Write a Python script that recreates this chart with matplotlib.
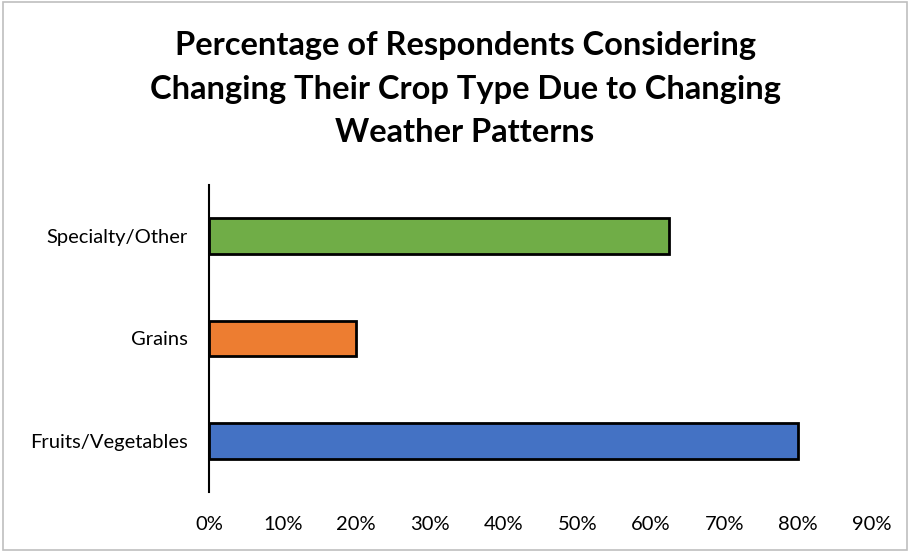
import matplotlib.pyplot as plt
from matplotlib.patches import Rectangle
from matplotlib.ticker import PercentFormatter

categories = ["Fruits/Vegetables", "Grains", "Specialty/Other"]
values = [80, 20, 62.5]
colors = ["#4472C4", "#ED7D31", "#70AD47"]

plt.rcParams['font.family'] = ['Lato', 'DejaVu Sans']

fig = plt.figure(figsize=(9.1, 5.52), dpi=100)
ax = fig.add_axes([0.2297, 0.1087, 0.7283, 0.5562])

ax.barh(categories, values, height=0.35, color=colors, edgecolor="black", linewidth=2)

ax.set_xlim(0, 90)
ax.set_ylim(-0.5, 2.5)
ax.set_xticks(range(0, 91, 10))
ax.xaxis.set_major_formatter(PercentFormatter(decimals=0))
ax.tick_params(axis="both", length=0, labelsize=14.5, colors="#000000")
ax.tick_params(axis="x", pad=17)
ax.tick_params(axis="y", pad=15.5)

for s in ["top", "right", "bottom"]:
    ax.spines[s].set_visible(False)
ax.spines["left"].set_linewidth(1.5)

fig.text(0.511, 0.943, "Percentage of Respondents Considering\nChanging Their Crop Type Due to Changing\nWeather Patterns",
         ha="center", va="top", fontsize=23.5, fontweight="bold", linespacing=1.6)

# light grey frame around the whole chart
fig.patches.append(Rectangle((0.003, 0.003), 0.994, 0.994, transform=fig.transFigure,
                             fill=False, edgecolor="#BFBFBF", linewidth=1.2))

fig.savefig("out.png", dpi=100)
